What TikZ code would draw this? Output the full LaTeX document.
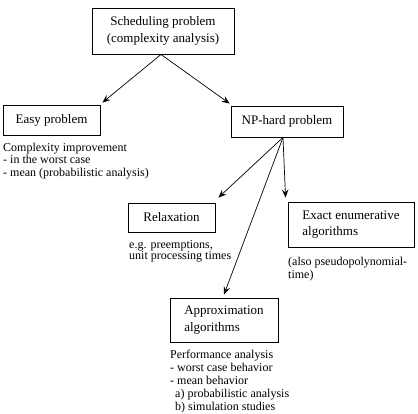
\documentclass[tikz,border=0pt]{standalone}
\usepackage{fontspec}
\setmainfont{Liberation Serif}
\usetikzlibrary{arrows.meta}
\begin{document}
\begin{tikzpicture}[x=1pt,y=-1pt,
  box/.style={draw,line width=0.9pt,inner sep=0pt,align=left,font=\fontsize{13}{16.5}\selectfont},
  note/.style={inner sep=0pt,align=left,anchor=base west,font=\fontsize{12}{12.5}\selectfont},
  arr/.style={line width=0.7pt,-{Stealth[length=8pt,width=6.5pt,inset=3pt]}}]
\useasboundingbox (0,0) rectangle (418,413);
\node[box,minimum width=142pt,minimum height=46pt,align=center] (top) at (163,31) {Scheduling problem\\(complexity analysis)};
\node[box,minimum width=97pt,minimum height=30pt] (easy) at (51.5,120) {Easy problem};
\node[box,minimum width=112pt,minimum height=31pt] (np) at (287,121.5) {NP-hard problem};
\node[box,minimum width=87pt,minimum height=29pt] (relax) at (171.5,217.5) {Relaxation};
\node[box,minimum width=126pt,minimum height=45pt] (exact) at (351,224.5) {Exact enumerative\\algorithms};
\node[box,minimum width=108pt,minimum height=44pt] (approx) at (224,320) {Approximation\\algorithms};
\coordinate (ts) at ([xshift=-2pt]top.south);
\coordinate (ns) at ([xshift=-4pt]np.south);
\draw[arr] (ts) -- ([xshift=2pt,yshift=2pt]easy.north east);
\draw[arr] (ts) -- ([xshift=-1pt,yshift=2pt]np.north west);
\draw[arr] (ns) -- ([xshift=3pt,yshift=5pt]relax.north east);
\draw[arr] (ns) -- ([xshift=-2pt,yshift=4pt]exact.north west);
\draw[arr] (ns) -- ([yshift=3pt]approx.north);
\node[note] (easyt) at (3,176) {Complexity improvement\\- in the worst case\\- mean (probabilistic analysis)};
\node[note,font=\fontsize{12}{11.5}\selectfont] (relaxt) at (129,259.5) {e.g. preemptions,\\unit processing times};
\node[note] (exactt) at (288,278) {(also pseudopolynomial-\\time)};
\node[note,font=\fontsize{12}{13}\selectfont] (approxt) at (170,410) {Performance analysis\\- worst case behavior\\- mean behavior\\\hspace*{5pt}a) probabilistic analysis\\\hspace*{5pt}b) simulation studies};
\end{tikzpicture}
\end{document}
